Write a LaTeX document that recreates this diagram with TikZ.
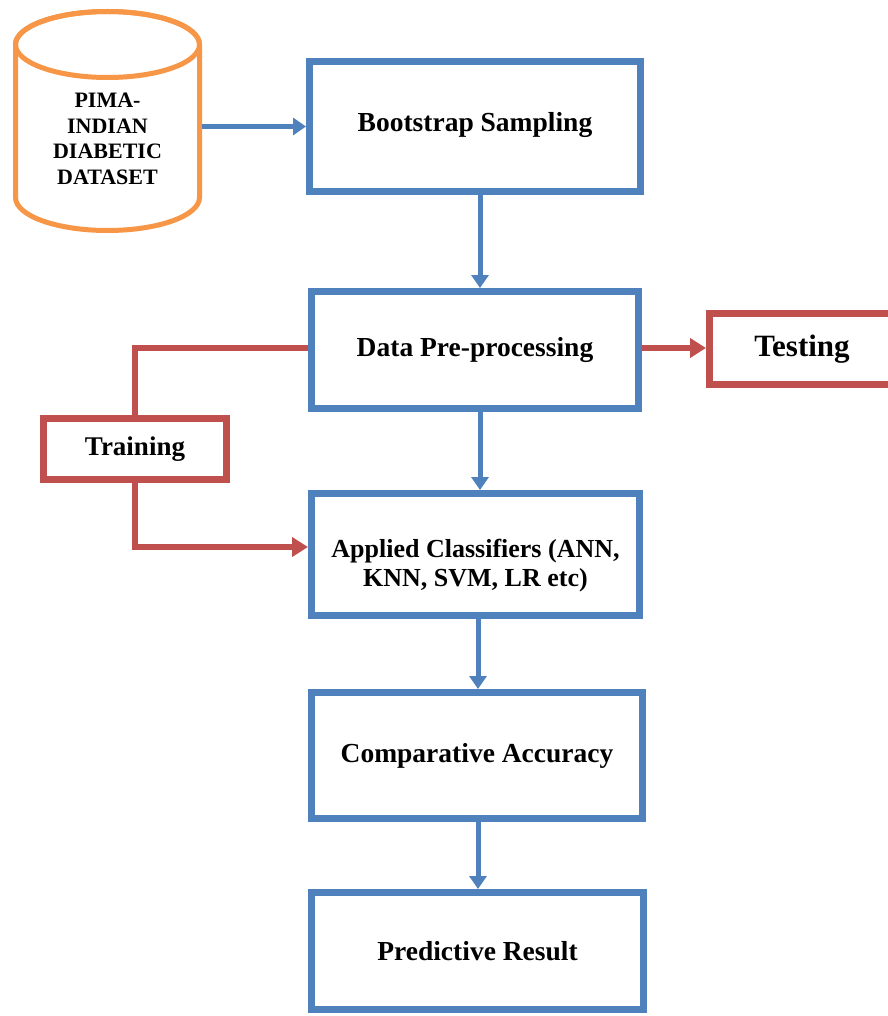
\documentclass[tikz,border=0pt]{standalone}
\usepackage{fontspec}
\setmainfont{Liberation Serif}
\usetikzlibrary{arrows.meta}
\definecolor{cblue}{RGB}{79,129,189}
\definecolor{cred}{RGB}{192,80,77}
\definecolor{corange}{RGB}{247,150,70}
\begin{document}
\begin{tikzpicture}[x=1pt,y=-1pt,
  box/.style={draw=cblue, line width=7pt, fill=white, inner sep=0pt, align=center,
    font=\bfseries\fontsize{27.5}{33}\selectfont},
  rbox/.style={draw=cred, line width=7pt, fill=white, inner sep=0pt, align=center,
    font=\bfseries\fontsize{27.5}{33}\selectfont},
  barr/.style={draw=cblue, line width=5pt, -{Triangle[length=13pt,width=17pt]}},
  rline/.style={draw=cred, line width=6.5pt},
  rarr/.style={draw=cred, line width=6.5pt, -{Triangle[length=16pt,width=19pt]}}]
\useasboundingbox (0,0) rectangle (887,1016);
\fill[white] (0,0) rectangle (887,1016);
% cylinder
\draw[corange, line width=5pt, fill=white] (15.5,44.5) -- (15.5,197.5)
  arc[start angle=180, end angle=0, x radius=92, y radius=33] -- (199.5,44.5)
  arc[start angle=0, end angle=-180, x radius=92, y radius=33] -- cycle;
\draw[corange, line width=5pt] (107.5,44.5) ellipse [x radius=92, y radius=33];
\node[inner sep=0pt, minimum width=189pt, align=center,
  font=\bfseries\fontsize{22}{25.5}\selectfont] (db) at (107.5,139)
  {PIMA-\\INDIAN\\DIABETIC\\DATASET};
% boxes
\node[box, minimum width=331pt, minimum height=130pt] (boot) at (475,126.5)
  {\raisebox{9pt}{Bootstrap Sampling}};
\node[box, minimum width=327pt, minimum height=117pt] (pre) at (475,350)
  {\raisebox{2pt}{Data Pre-processing}};
\node[rbox, minimum width=185pt, minimum height=71pt,
  font=\bfseries\fontsize{31}{36}\selectfont] (test) at (802,349)
  {\raisebox{6pt}{Testing}};
\node[rbox, minimum width=183pt, minimum height=61pt,
  font=\bfseries\fontsize{27}{32}\selectfont] (train) at (135,449)
  {\raisebox{2pt}{Training}};
\node[box, minimum width=328pt, minimum height=122pt,
  font=\bfseries\fontsize{26}{29}\selectfont] (app) at (475.5,554.5)
  {\raisebox{-18pt}[0pt][0pt]{\begin{tabular}{@{}c@{}}Applied Classifiers (ANN,\\KNN, SVM, LR etc)\end{tabular}}};
\node[box, minimum width=331pt, minimum height=126pt] (comp) at (477,755.5)
  {\raisebox{3pt}{Comparative Accuracy}};
\node[box, minimum width=332pt, minimum height=117pt] (pred) at (477.5,951)
  {\raisebox{1pt}{Predictive Result}};
% connectors
\coordinate (xa) at (480,0);
\coordinate (xb) at (478,0);
\draw[barr] (db.east |- boot.west) -- (boot.west);
\draw[barr] (boot.south -| xa) -- (pre.north -| xa);
\draw[barr] (pre.south -| xa) -- (app.north -| xa);
\draw[barr] (app.south -| xb) -- (comp.north -| xb);
\draw[barr] (comp.south -| xb) -- (pred.north -| xb);
\draw[rarr] ([yshift=2pt]pre.east) -- ([yshift=2pt]pre.east -| test.west);
\draw[rline] ([yshift=2pt]pre.west) -| (train.north);
\draw[rarr] (train.south) |- ([yshift=7.5pt]app.west);
\end{tikzpicture}
\end{document}
